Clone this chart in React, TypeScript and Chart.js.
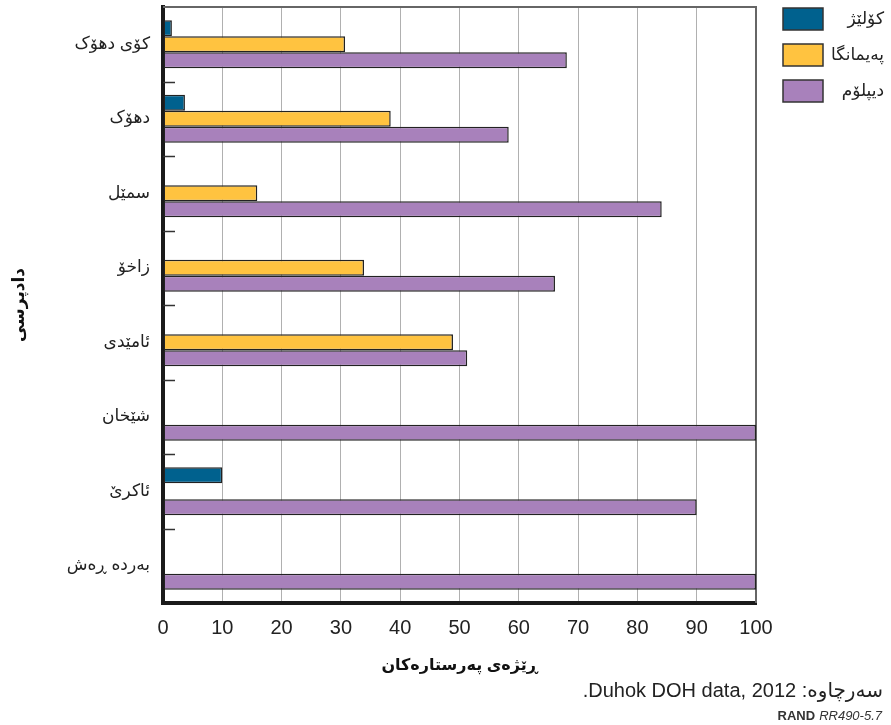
import React, { useEffect, useRef } from "react";
import { Chart, registerables } from "chart.js";

Chart.register(...registerables);

const categories = ["کۆی دهۆک", "دهۆک", "سمێل", "زاخۆ", "ئامێدی", "شێخان", "ئاکرێ", "بەردە ڕەش"];
const seriesNames = ["کۆلێژ", "پەیمانگا", "دیپلۆم"];
const college = [1.5, 3.7, null, null, null, null, 10, null];
const institute = [30.7, 38.4, 15.9, 33.9, 48.9, null, null, null];
const diploma = [68.1, 58.3, 84.1, 66.1, 51.3, 100, 90, 100];
const xTicks = [0, 10, 20, 30, 40, 50, 60, 70, 80, 90, 100];
const seriesColors = ["#00618e", "#ffc340", "#a881bb"];
const yTitle = "دادپرسی";
const xTitle = "ڕێژەی پەرستارەکان";
const sourceText = "سەرچاوە: Duhok DOH data, 2012.";
const randText = "RAND";
const idText = "RR490-5.7";

const FONT = "'Liberation Sans', 'DejaVu Sans', Arial, sans-serif";

const extrasPlugin = {
  id: "extras",
  beforeDatasetsDraw(chart: any) {
    const { ctx, chartArea } = chart;
    ctx.save();
    ctx.strokeStyle = "#666";
    ctx.lineWidth = 2;
    ctx.beginPath();
    ctx.moveTo(chartArea.left, chartArea.top);
    ctx.lineTo(chartArea.right, chartArea.top);
    ctx.lineTo(chartArea.right, chartArea.bottom);
    ctx.stroke();
    ctx.restore();
  },
  afterDraw(chart: any) {
    const { ctx, chartArea } = chart;
    const y = chart.scales.y;
    ctx.save();
    // inner category separator ticks
    ctx.strokeStyle = "#333";
    ctx.lineWidth = 1.5;
    for (let i = 0; i < categories.length - 1; i++) {
      const py = Math.round((y.getPixelForValue(i) + y.getPixelForValue(i + 1)) / 2) + 0.5;
      ctx.beginPath();
      ctx.moveTo(chartArea.left, py);
      ctx.lineTo(chartArea.left + 12, py);
      ctx.stroke();
    }
    // legend
    const boxX = 783;
    const boxW = 40;
    const boxH = 22;
    seriesNames.forEach((name, i) => {
      const top = 8 + i * 36;
      ctx.fillStyle = seriesColors[i];
      ctx.fillRect(boxX, top, boxW, boxH);
      ctx.strokeStyle = "#333";
      ctx.lineWidth = 1.5;
      ctx.strokeRect(boxX, top, boxW, boxH);
      ctx.fillStyle = "#222";
      ctx.font = `17px ${FONT}`;
      ctx.textAlign = "right";
      ctx.textBaseline = "middle";
      ctx.fillText(name, 884, top + boxH / 2);
    });
    // source
    ctx.direction = "rtl";
    ctx.textAlign = "right";
    ctx.textBaseline = "middle";
    ctx.fillStyle = "#222";
    ctx.font = `20px ${FONT}`;
    ctx.fillText(sourceText, 883, 691);
    ctx.direction = "ltr";
    ctx.textAlign = "right";
    ctx.fillStyle = "#333";
    ctx.font = `italic 13px ${FONT}`;
    ctx.fillText(idText, 882, 716);
    const w = ctx.measureText(idText).width;
    ctx.font = `bold 13px ${FONT}`;
    ctx.fillText(randText, 882 - w - 4, 716);
    ctx.restore();
  },
};

export default function App() {
  const ref = useRef<HTMLCanvasElement | null>(null);
  useEffect(() => {
    if (!ref.current) return;
    const chart = new Chart(ref.current, {
      type: "bar",
      data: {
        labels: categories,
        datasets: [college, institute, diploma].map((d, i) => ({
          label: seriesNames[i],
          data: d,
          backgroundColor: seriesColors[i],
          borderColor: "#222",
          borderWidth: 1.5,
          borderSkipped: false,
          categoryPercentage: 0.645,
          barPercentage: 1,
        })),
      },
      options: {
        indexAxis: "y",
        animation: false,
        responsive: false,
        devicePixelRatio: 1,
        layout: { padding: { left: 0, top: 7, right: 135, bottom: 0 } },
        plugins: { legend: { display: false }, tooltip: { enabled: false } },
        scales: {
          x: {
            type: "linear",
            min: 0,
            max: 100,
            afterBuildTicks: (s: any) => {
              s.ticks = xTicks.map((v) => ({ value: v }));
            },
            afterFit: (s: any) => {
              s.height = 122;
            },
            ticks: {
              font: { family: FONT, size: 20 },
              color: "#222",
              padding: 13,
            },
            grid: { color: "#b0b0b0", lineWidth: 1, drawTicks: false },
            border: { color: "#1a1a1a", width: 4 },
            title: {
              display: true,
              text: xTitle,
              font: { family: FONT, size: 16, weight: "bold" },
              color: "#111",
              padding: { top: 0, bottom: 50 },
            },
          },
          y: {
            type: "category",
            z: 1,
            afterFit: (s: any) => {
              s.width = 163;
              s.paddingTop = 0;
              s.paddingBottom = 0;
            },
            ticks: {
              font: { family: FONT, size: 17 },
              color: "#222",
              padding: 13,
            },
            grid: { display: false, drawTicks: false },
            border: { color: "#1a1a1a", width: 4 },
            title: {
              display: true,
              text: yTitle,
              font: { family: FONT, size: 17, weight: "bold" },
              color: "#111",
              padding: { top: 9, bottom: 0 },
            },
          },
        },
      } as any,
      plugins: [extrasPlugin],
    });
    return () => chart.destroy();
  }, []);
  return (
    <div style={{ position: "fixed", left: 0, top: 0, width: 891, height: 725, background: "#fff" }}>
      <canvas ref={ref} width={891} height={725} style={{ display: "block" }} />
    </div>
  );
}
